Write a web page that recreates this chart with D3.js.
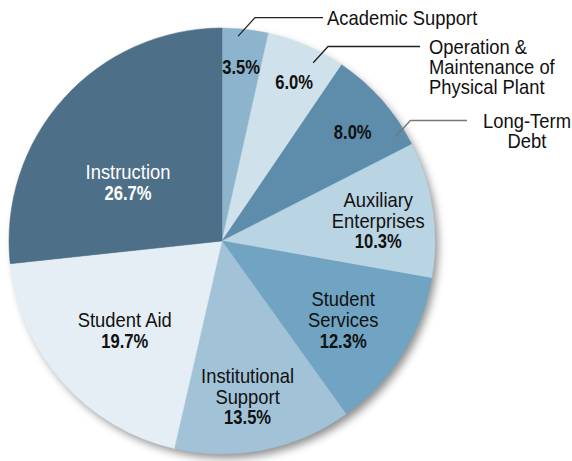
<!DOCTYPE html>
<html>
<head>
<meta charset="utf-8">
<script src="https://cdn.jsdelivr.net/npm/d3@7"></script>
<style>
  body { margin: 0; background: #fff; }
  text { font-family: "Liberation Sans", Arial, sans-serif; font-size: 20px; }
  .pct { font-weight: bold; font-size: 19.5px; }
</style>
</head>
<body>
<svg width="572" height="461"></svg>
<script>
var svg = d3.select('svg');

// data
var categories = ['Academic Support', 'Operation & Maintenance of Physical Plant', 'Long-Term Debt',
    'Auxiliary Enterprises', 'Student Services', 'Institutional Support', 'Student Aid', 'Instruction'];
var shares = [3.5, 6.0, 8.0, 10.3, 12.3, 13.5, 19.7, 26.7];
var colors = ['#8cb4cd', '#cfe1eb', '#5e8cab', '#b9d4e2', '#70a4c2', '#a2c3d7', '#e5eef4', '#4e6f88'];

// label lines inside slices (empty = name is outside with a leader)
var insideLines = [[], [], [], ['Auxiliary', 'Enterprises'], ['Student', 'Services'],
    ['Institutional', 'Support'], ['Student Aid'], ['Instruction']];
var outsideLines = [['Academic Support'], ['Operation &', 'Maintenance of', 'Physical Plant'], ['Long-Term', 'Debt']];

// label placement: radius fraction and angle shift (deg) from slice middle
var labelRadius = [0.82, 0.82, 0.80, 0.74, 0.68, 0.74, 0.62, 0.52];
var labelShift = [0, 1, 1.5, 1, 1, 2, -1, -10];
var textColor = ['#111', '#111', '#111', '#111', '#111', '#111', '#111', '#fff'];

var cx = 222, cy = 241, radius = 213;
var lineH = 21;
var nameScale = 0.92, pctScale = 0.85;

var defs = svg.append('defs');
var shadow = defs.append('filter').attr('id', 'shadow')
    .attr('x', '-10%').attr('y', '-10%').attr('width', '125%').attr('height', '125%');
shadow.append('feDropShadow')
    .attr('dx', 4).attr('dy', 5).attr('stdDeviation', 4)
    .attr('flood-color', '#000').attr('flood-opacity', 0.45);

var pie = d3.pie().sort(null).value(function(d) { return d; });
var arcs = pie(shares);
var arc = d3.arc().innerRadius(0).outerRadius(radius);

var g = svg.append('g').attr('transform', 'translate(' + [cx, cy] + ')');

g.append('circle').attr('r', radius - 1).attr('fill', '#5e8cab').attr('filter', 'url(#shadow)');

g.selectAll('.slice')
    .data(arcs)
    .enter()
    .append('path')
    .attr('class', 'slice')
    .attr('d', arc)
    .attr('fill', function(d, i) { return colors[i]; })
    .attr('stroke', function(d, i) { return colors[i]; })
    .attr('stroke-width', 0.5);

function polar(d, frac, shiftDeg) {
    var a = (d.startAngle + d.endAngle) / 2 + shiftDeg * Math.PI / 180;
    var r = radius * frac;
    return [r * Math.sin(a), -r * Math.cos(a)];
}

// one line of condensed text: a normal font squeezed horizontally
function addLine(parent, x, y, s, opts) {
    var sx = opts.bold ? pctScale : nameScale;
    parent.append('g')
        .attr('transform', 'translate(' + [x, y] + ') scale(' + sx + ',1)')
        .append('text')
        .attr('class', opts.bold ? 'pct' : null)
        .attr('text-anchor', opts.anchor || 'middle')
        .attr('dy', '0.35em')
        .attr('fill', opts.color || '#111')
        .text(s);
}

arcs.forEach(function(d, i) {
    var p = polar(d, labelRadius[i], labelShift[i]);
    var lines = insideLines[i].concat([shares[i].toFixed(1) + '%']);
    var top = p[1] - (lines.length - 1) * lineH / 2;
    lines.forEach(function(s, j) {
        addLine(g, p[0], top + j * lineH, s,
            {bold: j === lines.length - 1, color: textColor[i]});
    });
});

// leader lines for the three small slices
var leaderStart = [[0.965, -1.8], [0.94, 3.7], [0.95, 10.4]];  // [radius frac, angle shift]
var leaderElbow = [[1.06, 2.1], [1.04, 5.2], [1.05, 8.8]];
var leaderEndX = [323, 420, 467];
var leaderColor = ['#222', '#222', '#777'];
var outAnchor = ['start', 'start', 'middle'];
var outX = [327, 429, 527];

outsideLines.forEach(function(lines, i) {
    var d = arcs[i];
    var p0 = polar(d, leaderStart[i][0], leaderStart[i][1]);
    var p1 = polar(d, leaderElbow[i][0], leaderElbow[i][1]);
    var x0 = cx + p0[0], y0 = cy + p0[1];
    var x1 = cx + p1[0], y1 = cy + p1[1];
    svg.append('polyline')
        .attr('points', [[x0, y0], [x1, y1], [leaderEndX[i], y1]].join(' '))
        .attr('fill', 'none')
        .attr('stroke', leaderColor[i])
        .attr('stroke-width', 1.3);
    lines.forEach(function(s, j) {
        addLine(svg, outX[i], y1 + j * 20, s, {anchor: outAnchor[i]});
    });
});
</script>
</body>
</html>
